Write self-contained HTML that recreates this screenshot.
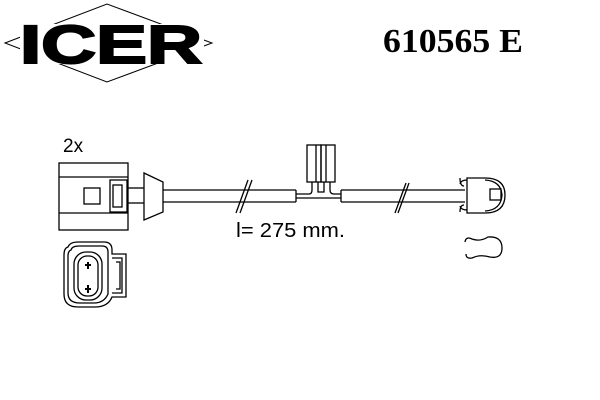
<!DOCTYPE html>
<html><head><style>body{margin:0;background:#fff}svg{display:block}</style></head><body>
<svg width="600" height="400" xmlns="http://www.w3.org/2000/svg" fill="none" stroke="#000" stroke-width="1.3">
<polygon points="5,43 107,4 212,43 107,82" stroke-width="1"/>
<rect x="20" y="24" width="184" height="40" fill="#fff" stroke="none"/>
<text x="20" y="63" font-family="Liberation Sans, sans-serif" font-weight="bold" font-size="54" fill="#000" stroke="#000" stroke-width="2" textLength="182" lengthAdjust="spacingAndGlyphs">ICER</text>
<text x="383" y="52" font-family="Liberation Serif, serif" font-weight="bold" font-size="34" fill="#000" stroke="none" textLength="140" lengthAdjust="spacingAndGlyphs">610565 E</text>
<text x="63" y="152" font-family="Liberation Sans, sans-serif" font-size="19" fill="#000" stroke="none">2x</text>
<text x="236" y="237" font-family="Liberation Sans, sans-serif" font-size="20" fill="#000" stroke="none" textLength="109" lengthAdjust="spacingAndGlyphs">l= 275 mm.</text>
<!-- connector side -->
<rect x="59" y="163" width="69" height="67"/>
<line x1="59" y1="177" x2="128" y2="177"/><line x1="59" y1="213" x2="128" y2="213"/>
<rect x="84" y="188" width="16" height="16"/>
<rect x="110" y="180" width="17" height="32"/><rect x="113" y="185" width="9" height="22"/>
<line x1="128" y1="188" x2="144" y2="188"/><line x1="128" y1="203" x2="144" y2="203"/>
<polygon points="144,173 163,182 163,212 144,220"/>
<line x1="163" y1="190" x2="296" y2="190"/><line x1="163" y1="202" x2="296" y2="202"/>
<line x1="236" y1="213" x2="248" y2="180"/><line x1="240" y1="213" x2="252" y2="180"/>
<line x1="296" y1="190" x2="296" y2="202"/>
<!-- T junction -->
<rect x="307" y="145" width="14" height="37"/><rect x="321" y="145" width="14" height="37"/>
<line x1="316" y1="145" x2="316" y2="182"/><line x1="326" y1="145" x2="326" y2="182"/>
<path d="M296,194 H309 Q312,194 312,190 V182 M330,182 V190 Q330,194 334,194 H341 M318,182 V192 H324 V182 M296,198 H341"/>
<line x1="341" y1="190" x2="465" y2="190"/><line x1="341" y1="202" x2="465" y2="202"/>
<line x1="341" y1="190" x2="341" y2="202"/>
<line x1="395" y1="213" x2="406" y2="183"/><line x1="398" y1="213" x2="409" y2="183"/>
<!-- right clip -->
<path d="M467,178 H485 Q505,178 505,195 Q505,213 485,213 H467 Z"/>
<path d="M485,180 Q501,181 502,195 Q501,210 485,211"/>
<rect x="490" y="189" width="11" height="11"/>
<path d="M467,180 Q461,180 460,184 M460,178 Q460,186 464,186 M467,210 Q461,210 460,206 M460,212 Q460,205 464,205"/>
<path d="M465,242 Q466,236 472,239 Q480,242 488,237 Q502,236 502,248 Q502,259 490,257 Q480,254 472,258 Q466,259 466,254"/>
<!-- plug face -->
<path d="M68,247 Q70,242 78,242 H104 Q112,242 112,250 V254 H126 V297 H112 Q108,307 95,307 H78 Q64,307 64,294 V255 Q64,248 68,247 Z"/>
<path d="M71,250 Q72,246 79,246 H102 Q108,246 108,252 V294 Q104,303 94,303 H80 Q68,303 68,293 V256 Q68,251 71,250 Z"/>
<rect x="74" y="252" width="28" height="48" rx="12"/>
<rect x="78" y="256" width="20" height="40" rx="9"/>
<path d="M112,258 H122 V293 H112 M116,262 H120 V289 H116"/>
<path d="M85,265 h6 M88,262 v7 M85,289 h6 M88,285 v8" stroke-width="2"/>
</svg>
</body></html>
